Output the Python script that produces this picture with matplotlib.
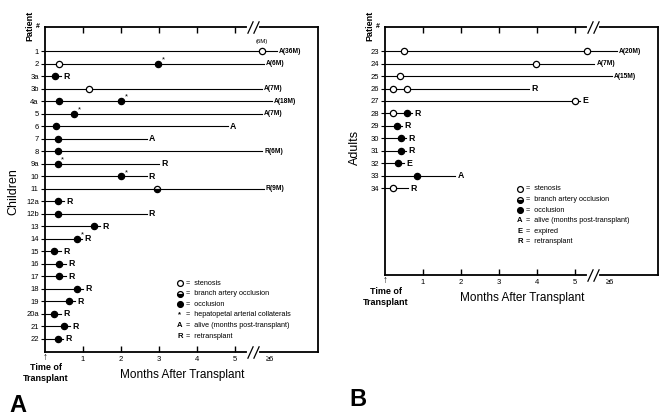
import matplotlib
matplotlib.use('Agg')
import matplotlib.pyplot as plt
from matplotlib.transforms import blended_transform_factory

plt.rcParams['font.family'] = ['Liberation Sans', 'DejaVu Sans']

# ---- Panel A: children ----
children_ids = ['1', '2', '3a', '3b', '4a', '5', '6', '7', '8', '9a', '10', '11',
                '12a', '12b', '13', '14', '15', '16', '17', '18', '19', '20a', '21', '22']
children_end = [6.1, 5.75, 0.42, 5.7, 5.97, 5.7, 4.8, 2.67, 5.7, 3.0, 2.67, 5.75,
                0.5, 2.67, 1.45, 0.97, 0.42, 0.55, 0.55, 1.0, 0.8, 0.42, 0.67, 0.47]
children_outcome = ['A(36M)', 'A(6M)', 'R', 'A(7M)', 'A(18M)', 'A(7M)', 'A', 'A', 'R(6M)',
                    'R', 'R', 'R(9M)', 'R', 'R', 'R', 'R', 'R', 'R', 'R', 'R', 'R', 'R', 'R', 'R']
children_stenosis = [('1', 5.7), ('2', 0.37), ('3b', 1.16)]
children_branch = [('11', 2.95)]
children_occlusion = [('2', 2.97), ('3a', 0.26), ('4a', 0.37), ('4a', 2.0), ('5', 0.76),
                      ('6', 0.29), ('7', 0.33), ('8', 0.35), ('9a', 0.33), ('10', 2.0),
                      ('12a', 0.33), ('12b', 0.33), ('13', 1.3), ('14', 0.84), ('15', 0.24),
                      ('16', 0.37), ('17', 0.37), ('18', 0.84), ('19', 0.63), ('20a', 0.24),
                      ('21', 0.5), ('22', 0.33)]
children_collaterals = [('2', 2.97), ('4a', 2.0), ('5', 0.76), ('9a', 0.33), ('10', 2.0), ('14', 0.84)]
children_notes = [('1', 5.7, '(6M)')]
children_legend = [('open', 'stenosis'), ('branch', 'branch artery occlusion'),
                   ('fill', 'occlusion'), ('*', 'hepatopetal arterial collaterals'),
                   ('A', 'alive (months post-transplant)'), ('R', 'retransplant')]

# ---- Panel B: adults ----
adult_ids = ['23', '24', '25', '26', '27', '28', '29', '30', '31', '32', '33', '34']
adult_end = [6.1, 5.5, 5.97, 3.8, 5.12, 0.72, 0.45, 0.55, 0.55, 0.5, 1.85, 0.6]
adult_outcome = ['A(20M)', 'A(7M)', 'A(15M)', 'R', 'E', 'R', 'R', 'R', 'R', 'E', 'A', 'R']
adult_stenosis = [('23', 0.5), ('23', 5.3), ('24', 3.97), ('25', 0.39), ('26', 0.2),
                  ('26', 0.57), ('27', 5.0), ('28', 0.2), ('34', 0.2)]
adult_branch = []
adult_occlusion = [('28', 0.57), ('29', 0.31), ('30', 0.42), ('31', 0.42), ('32', 0.35), ('33', 0.84)]
adult_collaterals = []
adult_notes = []
adult_legend = [('open', 'stenosis'), ('branch', 'branch artery occlusion'),
                ('fill', 'occlusion'), ('A', 'alive (months post-transplant)'),
                ('E', 'expired'), ('R', 'retransplant')]

month_ticks = [1, 2, 3, 4, 5]
break_at = 5.47
six_at = 5.92
XMAX = 7.18

MS = 4.5
marker_style = {
    'open': dict(marker='o', mfc='white', mec='black', mew=0.9, ms=MS),
    'fill': dict(marker='o', mfc='black', mec='black', mew=0.9, ms=MS),
    'branch': dict(marker='o', mfc='black', mec='black', mew=0.9, ms=MS,
                   fillstyle='bottom', markerfacecoloralt='white'),
}


def draw_panel(ax, ids, end, outcome, stenosis, branch, occlusion, collaterals, notes,
               legend, ylim_bottom, ylim_top, legend_top, legend_step):
    row = {p: i for i, p in enumerate(ids)}
    for i, p in enumerate(ids):
        ax.plot([0, end[i]], [i, i], color='black', lw=0.8, zorder=2)
        lab = outcome[i]
        size = 4.8 if '(' in lab else 6.3
        ax.text(end[i] + 0.06, i, lab, fontsize=size, fontweight='bold', va='center', ha='left')

    for kind, pts in (('open', stenosis), ('branch', branch), ('fill', occlusion)):
        for p, x in pts:
            ax.plot([x], [row[p]], linestyle='none', zorder=4, **marker_style[kind])
    for p, x in collaterals:
        ax.text(x + 0.1, row[p] - 0.3, '*', fontsize=5.5, ha='left', va='center')
    for p, x, txt in notes:
        ax.text(x, row[p] - 0.6, txt, fontsize=4.3, ha='center', va='bottom')

    ax.set_xlim(0, XMAX)
    ax.set_ylim(ylim_bottom, ylim_top)
    ax.set_yticks(range(len(ids)))
    ax.set_yticklabels(ids, fontsize=5.5)
    ax.set_xticks(month_ticks)
    ax.set_xticklabels([str(m) for m in month_ticks], fontsize=5.5)
    ax.tick_params(axis='x', direction='in', top=True, bottom=True, length=4, width=1.0, pad=3)
    ax.tick_params(axis='y', direction='out', length=3, width=0.8, pad=1.5)
    for s in ax.spines.values():
        s.set_linewidth(1.3)

    # axis break marks on top and bottom
    trans = blended_transform_factory(ax.transData, ax.transAxes)
    for yy in (0, 1):
        ax.plot([break_at - 0.1, break_at + 0.1], [yy, yy], color='white', lw=3,
                transform=trans, clip_on=False, zorder=5)
        for dx in (-0.07, 0.07):
            ax.plot([break_at + dx], [yy], transform=trans, clip_on=False, zorder=6,
                    marker=[(-1, -2.2), (1, 2.2)], ms=9, mec='black', mew=0.9, linestyle='none')
    ax.text(six_at, -0.012 * 325 / (ax.get_position().height * 418), '\u22656', transform=trans,
            fontsize=5.5, ha='center', va='top')
    ax.text(0, 0, '\u2191', transform=trans, fontsize=7, ha='center', va='top')

    # legend drawn as text rows
    for k, (sym, txt) in enumerate(legend):
        ly = legend_top - k * legend_step
        if sym in marker_style:
            ax.plot([0.494], [ly], transform=ax.transAxes, linestyle='none',
                    **dict(marker_style[sym], ms=4.2))
        else:
            ax.text(0.494, ly, sym, transform=ax.transAxes, fontsize=5.5,
                    fontweight='bold', ha='center', va='center')
        ax.text(0.516, ly, '=  ' + txt, transform=ax.transAxes, fontsize=5.2, ha='left', va='center')

    ax.text(-0.02, 1.0, '#', transform=ax.transAxes, fontsize=5, fontweight='bold',
            ha='right', va='center')


fig = plt.figure(figsize=(6.69, 4.18), dpi=100)
axA = fig.add_axes([45 / 669, 1 - 352 / 418, 273 / 669, 325 / 418])
axB = fig.add_axes([385 / 669, 1 - 275 / 418, 273 / 669, 248 / 418])

draw_panel(axA, children_ids, children_end, children_outcome, children_stenosis, children_branch,
           children_occlusion, children_collaterals, children_notes, children_legend,
           24.04, -1.92, 0.212, 0.0326)
draw_panel(axB, adult_ids, adult_end, adult_outcome, adult_stenosis, adult_branch,
           adult_occlusion, adult_collaterals, adult_notes, adult_legend,
           17.95, -1.93, 0.347, 0.0427)

# text around panel A
fig.text(30 / 669, 1 - 26 / 418, 'Patient', rotation=90, fontsize=6.5, fontweight='bold',
         ha='center', va='center')
fig.text(13 / 669, 1 - 192 / 418, 'Children', rotation=90, fontsize=9, ha='center', va='center')
fig.text(46 / 669, 1 - 373 / 418, 'Time of\nTransplant', fontsize=6.5, fontweight='bold',
         ha='center', va='center', linespacing=1.3)
fig.text(182 / 669, 1 - 375 / 418, 'Months After Transplant', fontsize=8.5, ha='center', va='center')
fig.text(18 / 669, 1 - 405 / 418, 'A', fontsize=17, fontweight='bold', ha='center', va='center')

# text around panel B
fig.text(370 / 669, 1 - 26 / 418, 'Patient', rotation=90, fontsize=6.5, fontweight='bold',
         ha='center', va='center')
fig.text(355 / 669, 1 - 147 / 418, 'Adults', rotation=90, fontsize=9, ha='center', va='center')
fig.text(386 / 669, 1 - 297 / 418, 'Time of\nTransplant', fontsize=6.5, fontweight='bold',
         ha='center', va='center', linespacing=1.3)
fig.text(522 / 669, 1 - 298 / 418, 'Months After Transplant', fontsize=8.5, ha='center', va='center')
fig.text(358 / 669, 1 - 400 / 418, 'B', fontsize=17, fontweight='bold', ha='center', va='center')

fig.savefig('out.png', dpi=100)
